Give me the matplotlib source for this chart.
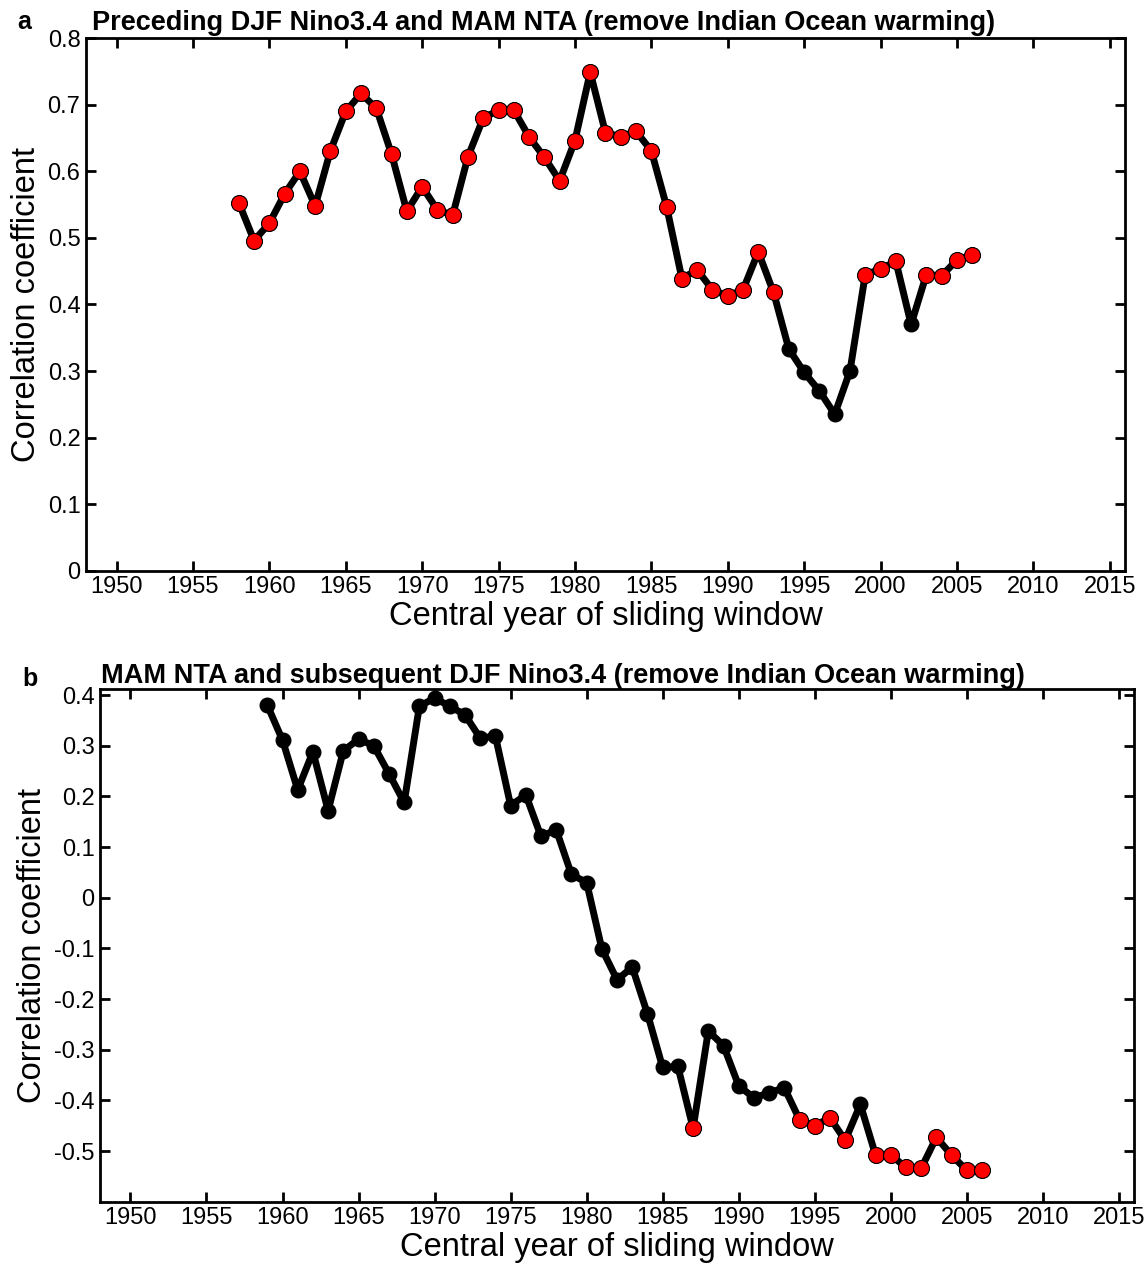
import numpy as np
import matplotlib
matplotlib.use('Agg')
import matplotlib.pyplot as plt
from matplotlib.ticker import FormatStrFormatter

plt.rcParams['font.family'] = ['Liberation Sans', 'DejaVu Sans']
plt.rcParams['axes.unicode_minus'] = False

# panel a: preceding DJF Nino3.4 vs MAM NTA
years_a = list(range(1958, 2007))
corr_a = [0.553, 0.496, 0.522, 0.566, 0.600, 0.548, 0.631, 0.690, 0.717, 0.695,
          0.626, 0.540, 0.577, 0.542, 0.534, 0.622, 0.680, 0.692, 0.692, 0.652,
          0.621, 0.586, 0.646, 0.749, 0.658, 0.652, 0.660, 0.631, 0.547, 0.439,
          0.452, 0.422, 0.413, 0.422, 0.479, 0.418, 0.333, 0.298, 0.270, 0.235,
          0.300, 0.445, 0.453, 0.465, 0.370, 0.445, 0.443, 0.467, 0.474]
not_sig_a = [1994, 1995, 1996, 1997, 1998, 2002]

# panel b: MAM NTA vs subsequent DJF Nino3.4
years_b = list(range(1959, 2007))
corr_b = [0.380, 0.311, 0.213, 0.288, 0.172, 0.290, 0.313, 0.300, 0.245, 0.188,
          0.378, 0.394, 0.378, 0.361, 0.315, 0.319, 0.182, 0.203, 0.121, 0.134,
          0.046, 0.030, -0.101, -0.162, -0.137, -0.229, -0.335, -0.333, -0.455, -0.263,
          -0.292, -0.371, -0.395, -0.385, -0.375, -0.438, -0.450, -0.434, -0.479, -0.408,
          -0.508, -0.508, -0.532, -0.534, -0.473, -0.508, -0.538, -0.538]
sig_b = [1987, 1994, 1995, 1996, 1997, 1999, 2000, 2001, 2002, 2003, 2004, 2005, 2006]

xticks = list(range(1950, 2016, 5))

fig = plt.figure(figsize=(11.46, 12.67), dpi=100)


def draw(ax, years, corr, red_years):
    ax.plot(years, corr, '-o', color='k', lw=5, ms=10.5, mfc='k', mec='k')
    ry = [y for y in years if y in red_years]
    rc = [c for y, c in zip(years, corr) if y in red_years]
    ax.plot(ry, rc, 'o', ms=11.5, mfc='red', mec='k', mew=0.8, zorder=3)
    ax.set_xlim(1948, 2016)
    ax.set_xticks(xticks)
    ax.tick_params(direction='in', length=7, width=2, labelsize=17,
                   top=True, right=True, pad=4)
    for s in ax.spines.values():
        s.set_linewidth(2)
    ax.set_xlabel('Central year of sliding window', fontsize=23.5, labelpad=2)
    ax.set_ylabel('Correlation coefficient', fontsize=23.5, labelpad=4)
    ax.yaxis.set_major_formatter(FormatStrFormatter('%g'))


ax1 = fig.add_axes([0.0750, 0.5496, 0.9067, 0.4202])
red_a = [y for y in years_a if y not in not_sig_a]
draw(ax1, years_a, corr_a, red_a)
ax1.set_ylim(0, 0.8)
ax1.set_yticks(np.round(np.arange(0, 0.81, 0.1), 1))

ax2 = fig.add_axes([0.0873, 0.0515, 0.9023, 0.4047])
draw(ax2, years_b, corr_b, sig_b)
ax2.set_ylim(-0.6, 0.412)
ax2.set_yticks(np.round(np.arange(-0.5, 0.41, 0.1), 1) + 0.0)

fig.text(92 / 1146, 1 - 30 / 1267, 'Preceding DJF Nino3.4 and MAM NTA (remove Indian Ocean warming)',
         fontsize=19.5, fontweight='bold', ha='left', va='baseline')
fig.text(101 / 1146, 1 - 683 / 1267, 'MAM NTA and subsequent DJF Nino3.4 (remove Indian Ocean warming)',
         fontsize=19.5, fontweight='bold', ha='left', va='baseline')
fig.text(17 / 1146, 1 - 29 / 1267, 'a', fontsize=18, fontweight='bold', ha='left', va='baseline')
fig.text(22 / 1146, 1 - 686 / 1267, 'b', fontsize=18, fontweight='bold', ha='left', va='baseline')

fig.savefig('out.png', dpi=100)
